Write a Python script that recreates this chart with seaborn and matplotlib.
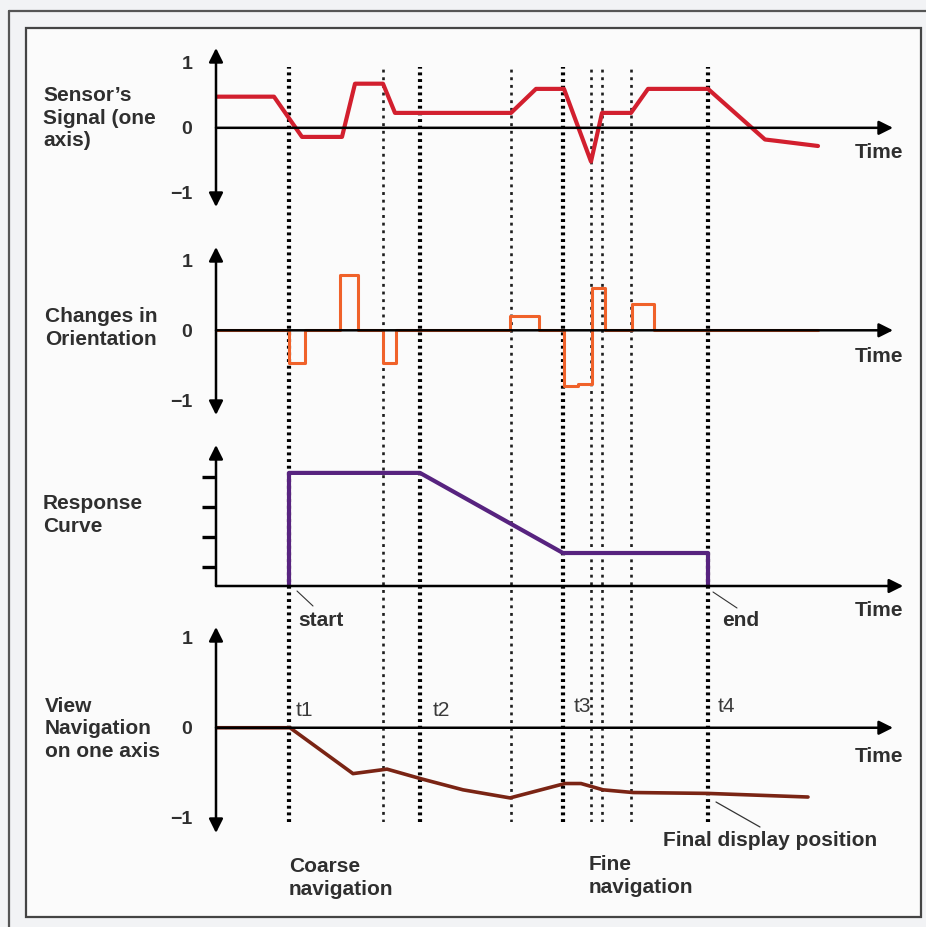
import matplotlib
matplotlib.use("Agg")
import matplotlib.pyplot as plt
import seaborn as sns
from matplotlib.patches import Rectangle
from matplotlib.lines import Line2D

# --- data (time in arbitrary units, 0 = vertical axis) ---
marker_times = [7.3, 16.7, 20.4, 29.5, 34.7, 37.5, 38.6, 41.5, 49.2]
marker_thick = [True, False, True, False, True, False, False, False, True]

signal_t = [0, 5.8, 8.6, 12.6, 13.9, 16.7, 17.9, 29.5, 32.0, 34.8, 37.5, 38.6,
            41.5, 43.2, 49.2, 54.9, 56.0, 60.2]
signal_v = [0.48, 0.48, -0.14, -0.14, 0.68, 0.68, 0.23, 0.23, 0.6, 0.6, -0.52, 0.23,
            0.23, 0.6, 0.6, -0.18, -0.2, -0.28]

orient_t = [0, 7.3, 8.9, 12.4, 14.2, 16.7, 18.0, 29.4, 32.3, 34.8, 36.2, 37.6, 38.9,
            41.6, 43.8, 60.2]
orient_v = [0, -0.46, 0, 0.79, 0, -0.46, 0, 0.2, 0, -0.8, -0.76, 0.6, 0,
            0.37, 0, 0]

response_t = [7.3, 7.3, 20.4, 34.7, 49.2, 49.2]
response_v = [0, 3.77, 3.77, 1.1, 1.1, 0]
response_ticks = [0.65, 1.65, 2.65, 3.65]

nav_t = [0, 7.4, 13.7, 17.1, 20.6, 24.7, 29.4, 34.9, 36.5, 38.7, 41.7, 49.2, 59.2]
nav_v = [0, 0, -0.51, -0.46, -0.57, -0.69, -0.78, -0.62, -0.62, -0.69, -0.72, -0.73, -0.77]

sig_ticks = [-1, 0, 1]
sig_ticklabels = ["\u22121", "0", "1"]

# --- style ---
sns.set_theme(style="white")
plt.rcParams["font.family"] = ["Liberation Sans", "DejaVu Sans"]

W, H = 926, 927
fig = plt.figure(figsize=(W / 100, H / 100), dpi=100)
fig.patch.set_facecolor("#f2f3f5")

TXT = "#2f2f2f"
FS = 15


def fx(px):
    return px / W


def fy(py):
    return 1 - py / H


def px_axes(left, top, right, bottom):
    ax = fig.add_axes([fx(left), fy(bottom), (right - left) / W, (bottom - top) / H])
    ax.set_facecolor("none")
    for s in ax.spines.values():
        s.set_visible(False)
    ax.set_xlim(0, 67.7)
    ax.set_xticks([])
    return ax


# frames (behind the axes)
fig.add_artist(Line2D([fx(9), fx(9)], [fy(11), 0], color="#555555", lw=1.6, zorder=-2))
fig.add_artist(Line2D([fx(9), 1], [fy(11), fy(11)], color="#555555", lw=1.6, zorder=-2))
fig.add_artist(Rectangle((fx(26), fy(917)), fx(921) - fx(26), fy(28) - fy(917),
                         facecolor="#fbfbfb", edgecolor="#444444", lw=1.6,
                         transform=fig.transFigure, zorder=-2))

# dotted time markers spanning all panels
ov = px_axes(216, 67, 893, 822)
ov.set_ylim(0, 1)
ov.set_yticks([])
for t, thick in zip(marker_times, marker_thick):
    if thick:
        ov.axvline(t, color="black", lw=3.0, ls=(0, (0.7, 0.9)))
    else:
        ov.axvline(t, color="#1e1e1e", lw=1.9, ls=(0, (1.1, 1.8)))

ARW = dict(color="black", lw=1.8, shrinkA=0, shrinkB=0, mutation_scale=21)


def axis_arrows(ax, both=True, xend=1.0):
    style = "<|-|>" if both else "-|>"
    ax.annotate("", xy=(0, 1), xytext=(0, 0), xycoords="axes fraction",
                arrowprops=dict(arrowstyle=style, **ARW))
    ax.annotate("", xy=(xend, 0), xytext=(0, 0), xycoords=("axes fraction", "data"),
                arrowprops=dict(arrowstyle="-|>", **ARW))


def tick_labels(ax):
    ax.set_yticks(sig_ticks)
    ax.set_yticklabels(sig_ticklabels, fontsize=FS - 1, fontweight="bold", color=TXT)
    ax.tick_params(axis="y", length=0, pad=17)


# panel 1: sensor signal
ax1 = px_axes(216, 48, 893, 207)
ax1.set_ylim(-1.22, 1.23)
axis_arrows(ax1)
sns.lineplot(x=signal_t, y=signal_v, ax=ax1, color="#d21f2e", lw=3.0,
             sort=False, estimator=None)
tick_labels(ax1)

# panel 2: changes in orientation
ax2 = px_axes(216, 247, 893, 415)
ax2.set_ylim(-1.21, 1.19)
axis_arrows(ax2)
sns.lineplot(x=orient_t, y=orient_v, ax=ax2, color="#f0622a", lw=2.2,
             sort=False, estimator=None, drawstyle="steps-post")
tick_labels(ax2)

# panel 3: response curve
ax3 = px_axes(216, 445, 893, 586)
ax3.set_ylim(0, 4.7)
axis_arrows(ax3, both=False, xend=1.015)
sns.lineplot(x=response_t, y=response_v, ax=ax3, color="#57237f", lw=3.0,
             sort=False, estimator=None)
ax3.set_yticks(response_ticks)
ax3.set_yticklabels([])
ax3.tick_params(axis="y", direction="out", length=10, width=2.4, color="black", left=True)

# panel 4: view navigation
ax4 = px_axes(216, 627, 893, 833)
ax4.set_ylim(-1.17, 1.12)
axis_arrows(ax4)
sns.lineplot(x=nav_t, y=nav_v, ax=ax4, color="#7a2414", lw=2.6,
             sort=False, estimator=None)
tick_labels(ax4)

for ax in (ax1, ax2, ax3, ax4):
    ax.set_xlabel("")
    ax.set_ylabel("")

# row titles
bold = dict(fontsize=FS, fontweight="bold", color=TXT, linespacing=1.25)
fig.text(fx(43), fy(118), "Sensor\u2019s\nSignal (one\naxis)", ha="left", va="center", **bold)
fig.text(fx(45), fy(328), "Changes in\nOrientation", ha="left", va="center", **bold)
fig.text(fx(43), fy(515), "Response\nCurve", ha="left", va="center", **bold)
fig.text(fx(45), fy(729), "View\nNavigation\non one axis", ha="left", va="center", **bold)

for y in (153, 356, 611, 757):
    fig.text(fx(855), fy(y), "Time", ha="left", va="center", **bold)

# start / end callouts
fig.add_artist(Line2D([fx(297), fx(313)], [fy(591), fy(606)], color="#333333", lw=0.8))
fig.text(fx(298), fy(620), "start", ha="left", va="center", **bold)
fig.add_artist(Line2D([fx(713), fx(737)], [fy(592), fy(608)], color="#333333", lw=0.8))
fig.text(fx(722), fy(620), "end", ha="left", va="center", **bold)

# t labels
for x, y, s in ((296, 710, "t1"), (433, 710, "t2"), (574, 706, "t3"), (718, 706, "t4")):
    fig.text(fx(x), fy(y), s, ha="left", va="center", fontsize=15, color="#3a3a3a")

fig.text(fx(289), fy(878), "Coarse\nnavigation", ha="left", va="center", **bold)
fig.text(fx(589), fy(876), "Fine\nnavigation", ha="left", va="center", **bold)
fig.add_artist(Line2D([fx(716), fx(760)], [fy(802), fy(827)], color="#333333", lw=0.9))
fig.text(fx(663), fy(840), "Final display position", ha="left", va="center", **bold)

fig.savefig("out.png", dpi=100, facecolor=fig.get_facecolor())
